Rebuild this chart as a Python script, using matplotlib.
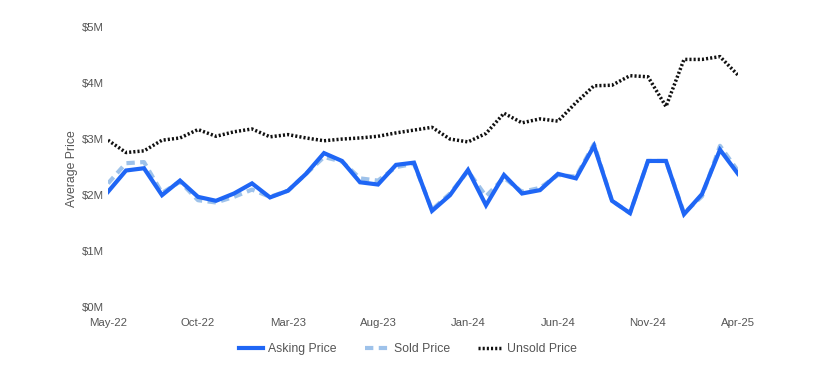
import matplotlib
matplotlib.use("Agg")
import matplotlib.pyplot as plt
from matplotlib.ticker import FuncFormatter

months = ["May-22","Jun-22","Jul-22","Aug-22","Sep-22","Oct-22","Nov-22","Dec-22",
          "Jan-23","Feb-23","Mar-23","Apr-23","May-23","Jun-23","Jul-23","Aug-23",
          "Sep-23","Oct-23","Nov-23","Dec-23","Jan-24","Feb-24","Mar-24","Apr-24",
          "May-24","Jun-24","Jul-24","Aug-24","Sep-24","Oct-24","Nov-24","Dec-24",
          "Jan-25","Feb-25","Mar-25","Apr-25"]

asking = [2.08, 2.46, 2.50, 2.02, 2.28, 1.99, 1.92, 2.05, 2.23, 1.98, 2.10, 2.40,
          2.77, 2.63, 2.25, 2.21, 2.56, 2.60, 1.74, 2.02, 2.47, 1.84, 2.38, 2.05,
          2.11, 2.40, 2.32, 2.90, 1.92, 1.70, 2.63, 2.63, 1.68, 2.04, 2.83, 2.40]
sold = [2.23, 2.59, 2.61, 2.06, 2.26, 1.93, 1.89, 1.99, 2.12, 1.99, 2.10, 2.40,
        2.70, 2.62, 2.32, 2.28, 2.52, 2.58, 1.76, 2.05, 2.45, 2.00, 2.33, 2.08,
        2.15, 2.38, 2.35, 2.93, 1.92, 1.70, 2.63, 2.63, 1.70, 2.00, 2.90, 2.45]
unsold = [3.00, 2.78, 2.81, 3.00, 3.04, 3.19, 3.07, 3.15, 3.20, 3.06, 3.10, 3.04,
          2.99, 3.02, 3.04, 3.07, 3.13, 3.18, 3.23, 3.02, 2.97, 3.12, 3.48, 3.31,
          3.38, 3.34, 3.67, 3.97, 3.98, 4.15, 4.13, 3.60, 4.44, 4.44, 4.49, 4.16]

tick_idx = list(range(0, 36, 5))
tick_labels = [months[i] for i in tick_idx]

plt.rcParams['font.family'] = ['Liberation Sans', 'DejaVu Sans']
txt = '#555555'

fig = plt.figure(figsize=(8.14, 3.76), dpi=100)
ax = fig.add_axes([108/814, 1-308.5/376, 630/814, 280.5/376])

x = list(range(len(months)))
ax.plot(x, [v*1e6 for v in asking], color='#1f66f5', lw=3, label='Asking Price', zorder=3,
        solid_joinstyle='miter')
ax.plot(x, [v*1e6 for v in sold], color='#9ec2ea', lw=3, ls=(0, (2, 1.3)), label='Sold Price', zorder=2)
ax.plot(x, [v*1e6 for v in unsold], color='#111111', lw=2.5, ls=(0, (0.6, 0.6)), label='Unsold Price', zorder=2)

ax.set_xlim(0, 35)
ax.set_ylim(0, 5e6)
ax.set_yticks([0, 1e6, 2e6, 3e6, 4e6, 5e6])
ax.yaxis.set_major_formatter(FuncFormatter(lambda v, p: f"${v/1e6:.0f}M"))
ax.set_xticks(tick_idx)
ax.set_xticklabels(tick_labels)
for s in ax.spines.values():
    s.set_visible(False)
ax.tick_params(axis='both', length=0, labelsize=8.2, colors=txt)
ax.tick_params(axis='y', pad=2.8)
ax.tick_params(axis='x', pad=7)
for lab in ax.get_yticklabels():
    lab.set_verticalalignment('center')
ax.set_ylabel('Average Price', fontsize=8.8, color=txt, labelpad=3)

leg = fig.legend(loc='center', bbox_to_anchor=(408/814, 1-349/376), ncol=3, frameon=False,
                 fontsize=8.8, handlelength=2.0, handletextpad=0.4, columnspacing=2.3)
for t in leg.get_texts():
    t.set_color(txt)

fig.savefig('out.png', dpi=100)
